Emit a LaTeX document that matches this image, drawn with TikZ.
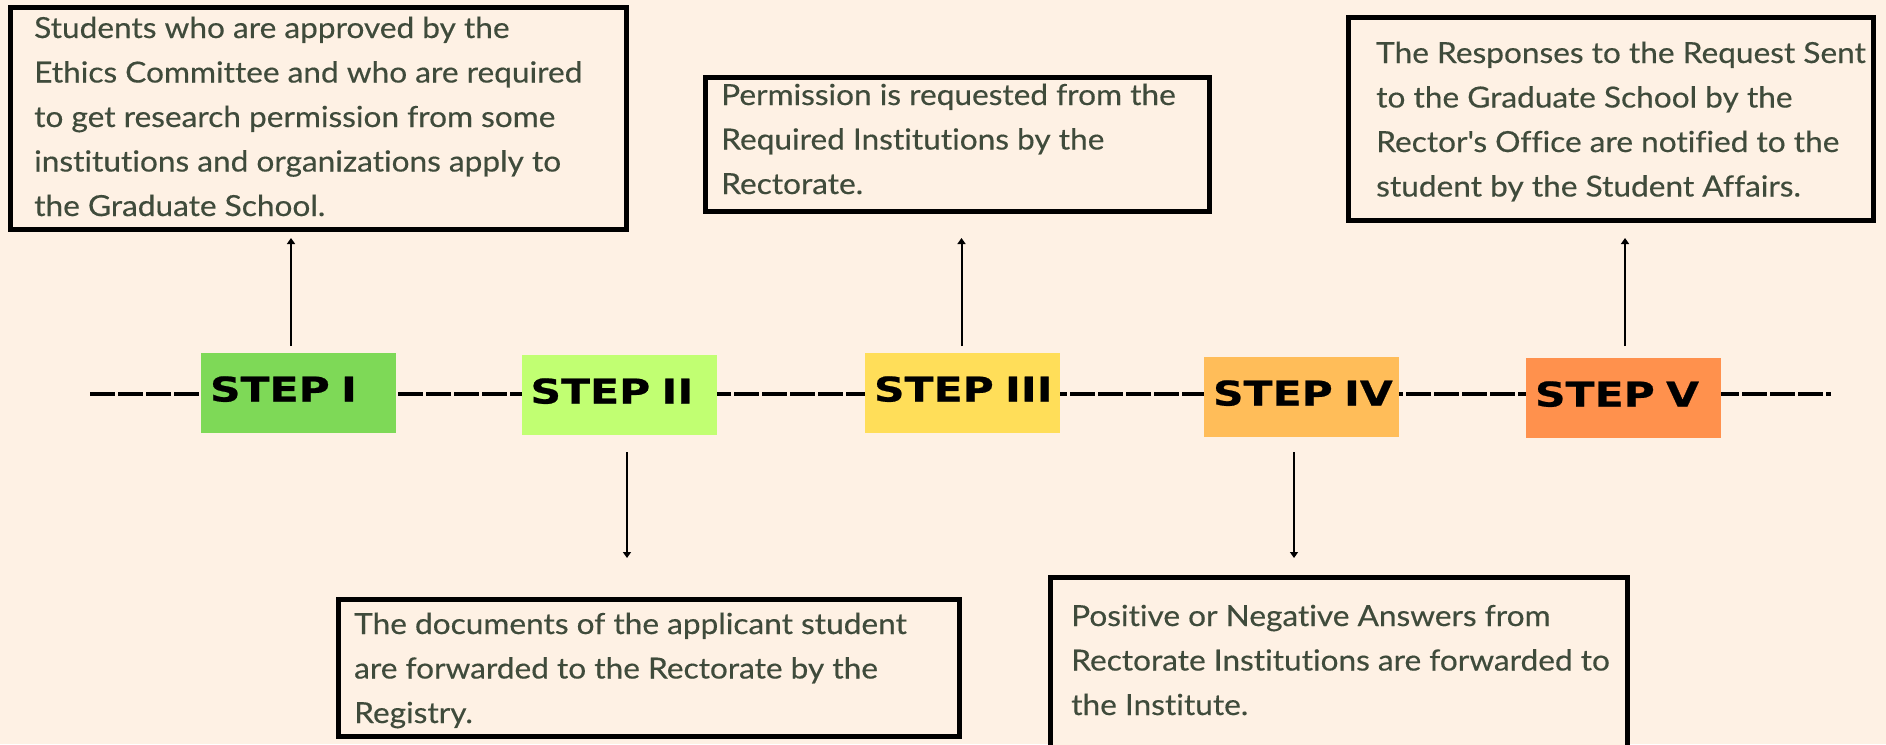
\documentclass[tikz,border=0pt]{standalone}
\usepackage{fontspec}
\setmainfont{Lato}[FakeStretch=1.09,FakeBold=0.4,Ligatures={NoCommon}]
\newfontfamily\stepfont{DejaVu Sans Bold}[FakeStretch=1.25,FakeBold=0.6]
\usetikzlibrary{arrows.meta}
\definecolor{paper}{HTML}{FEF1E4}
\definecolor{ink}{HTML}{3F4B3B}
\definecolor{stepA}{HTML}{7ED957}
\definecolor{stepB}{HTML}{C1FF72}
\definecolor{stepC}{HTML}{FFDE59}
\definecolor{stepD}{HTML}{FFBD59}
\definecolor{stepE}{HTML}{FF914D}
\newcommand\notetext[2]{\parbox[t]{#1}{\raggedright #2}}
\begin{document}
\begin{tikzpicture}[x=1pt,y=-1pt,
  stepbox/.style={minimum width=195pt, minimum height=80pt, inner xsep=9pt, inner ysep=0pt,
    text width=177pt, align=left, text height=25pt, text depth=8pt,
    font=\stepfont\fontsize{34}{34}\selectfont, text=black, outer sep=0pt},
  notebox/.style={draw=black, line width=5pt, fill=paper, inner sep=0pt, outer sep=0pt},
  note/.style={anchor=base west, inner sep=0pt, text=ink, font=\fontsize{29}{44.5}\selectfont},
  arr/.style={line width=2pt, -{Triangle[width=8pt,length=6pt]}},
  timeline/.style={line width=3.3pt, dash pattern=on 24.5pt off 3.5pt}]

% canvas
\useasboundingbox (0,0) rectangle (1886,744);
\clip (0,0) rectangle (1886,744);
\fill[paper] (0,0) rectangle (1886,744);

% timeline
\coordinate (lineL) at (90,394);
\coordinate (lineR) at (1831,394);
\draw[timeline] (lineL) -- (lineR);

% steps
\node[stepbox, fill=stepA] (s1) at (298.5,393) {\mbox{STEP I}};
\node[stepbox, fill=stepB] (s2) at (619,395) {\mbox{STEP II}};
\node[stepbox, fill=stepC] (s3) at (962.5,393) {\mbox{STEP III}};
\node[stepbox, fill=stepD] (s4) at (1301.5,397) {\mbox{STEP IV}};
\node[stepbox, fill=stepE] (s5) at (1623.5,398) {\mbox{STEP V}};

% description frames
\node[notebox, minimum width=616, minimum height=222] (b1) at (318.5,118.5) {};
\node[notebox, minimum width=621, minimum height=136.5] (b2) at (649,667.75) {};
\node[notebox, minimum width=503.5, minimum height=134] (b3) at (957.25,144.5) {};
\node[notebox, minimum width=576.5, minimum height=212.5] (b4) at (1338.75,683.75) {};
\node[notebox, minimum width=525, minimum height=202.5] (b5) at (1611,118.75) {};

% descriptions
\node[note] (t1) at (34,38) {\notetext{590pt}{Students who are approved by the\\
Ethics Committee and who are required\\
to get research permission from some\\
institutions and organizations apply to\\
the Graduate School.}};
\node[note] (t2) at (354,634) {\notetext{600pt}{The documents of the applicant student\\
are forwarded to the Rectorate by the\\
Registry.}};
\node[note] (t3) at (721,105) {\notetext{480pt}{Permission is requested from the\\
Required Institutions by the\\
Rectorate.}};
\node[note] (t4) at (1071,626) {\notetext{560pt}{Positive or Negative Answers from\\
Rectorate Institutions are forwarded to\\
the Institute.}};
\node[note] (t5) at (1376,63) {\notetext{500pt}{The Responses to the Request Sent\\
to the Graduate School by the\\
Rector\textquotesingle s Office are notified to the\\
student by the Student Affairs.}};

% arrows from each step to its description
\draw[arr] ([shift={(-7.5,-7)}]s1.north) -- ++(0,-108);
\draw[arr] ([shift={(8,17)}]s2.south) -- ++(0,106);
\draw[arr] ([shift={(-1,-7)}]s3.north) -- ++(0,-108);
\draw[arr] ([shift={(-7.5,15)}]s4.south) -- ++(0,106);
\draw[arr] ([shift={(1.5,-12)}]s5.north) -- ++(0,-108);
\end{tikzpicture}
\end{document}
